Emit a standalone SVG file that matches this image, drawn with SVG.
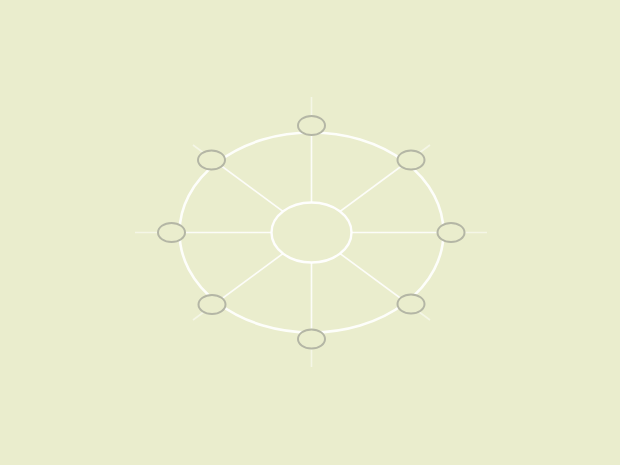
<svg xmlns="http://www.w3.org/2000/svg" width="620" height="465" viewBox="0 0 620 465">
<defs>
<radialGradient id="spokeGrad" gradientUnits="userSpaceOnUse" cx="0" cy="0" r="1" gradientTransform="translate(311.5 232.5) scale(132 100)">
<stop offset="0" stop-color="#ffffff" stop-opacity="0.9"/>
<stop offset="0.95" stop-color="#ffffff" stop-opacity="0.85"/>
<stop offset="1.05" stop-color="#ffffff" stop-opacity="0.7"/>
<stop offset="1.35" stop-color="#ffffff" stop-opacity="0.5"/>
</radialGradient>
</defs>
<style>
.spoke{stroke:url(#spokeGrad);stroke-width:1.6;fill:none}
.ring{stroke:#ffffff;stroke-width:2.6;fill:none;stroke-opacity:0.9}
.hub{stroke:#ffffff;stroke-width:2.4;stroke-opacity:0.95;fill:#eaedcd}
.node{stroke:#b4b6a5;stroke-width:2;fill:#eaedcd}
</style>
<rect x="0" y="0" width="620" height="465" fill="#eaedcd"/>
<g id="connectors">
<line class="spoke" x1="311.5" y1="97" x2="311.5" y2="367"/>
<line class="spoke" x1="135" y1="232.5" x2="487" y2="232.5"/>
<line class="spoke" x1="193" y1="145" x2="430" y2="320"/>
<line class="spoke" x1="430" y1="145" x2="193" y2="320"/>
</g>
<ellipse id="ring" class="ring" cx="311.5" cy="232.5" rx="132" ry="100"/>
<g id="hub"><ellipse class="hub" cx="311.5" cy="232.5" rx="40" ry="30"/></g>
<g id="node-top"><ellipse class="node" cx="311.5" cy="125.5" rx="13.5" ry="9.5"/></g>
<g id="node-top-right"><ellipse class="node" cx="411" cy="160" rx="13.5" ry="9.5"/></g>
<g id="node-right"><ellipse class="node" cx="451" cy="232.5" rx="13.5" ry="9.5"/></g>
<g id="node-bottom-right"><ellipse class="node" cx="411" cy="304" rx="13.5" ry="9.5"/></g>
<g id="node-bottom"><ellipse class="node" cx="311.5" cy="339" rx="13.5" ry="9.5"/></g>
<g id="node-bottom-left"><ellipse class="node" cx="212" cy="304.5" rx="13.5" ry="9.5"/></g>
<g id="node-left"><ellipse class="node" cx="171.5" cy="232.5" rx="13.5" ry="9.5"/></g>
<g id="node-top-left"><ellipse class="node" cx="211.5" cy="160" rx="13.5" ry="9.5"/></g>
</svg>
